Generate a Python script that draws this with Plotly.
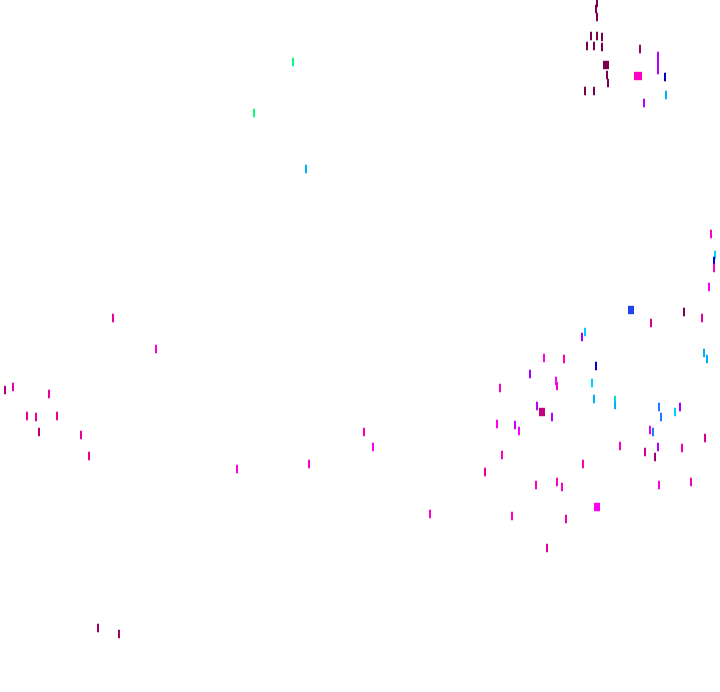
import plotly.graph_objects as go

# point positions (x, y) and colour value per point
xs = [597, 596, 597, 591, 597, 602, 587, 594, 602, 606, 607, 608, 585, 594,
      640, 638, 658, 665, 666, 644,
      293, 254, 306,
      113, 156, 5, 13, 49, 27, 36, 57, 39, 81, 89, 98, 119,
      237, 309, 364, 373, 430,
      631, 684, 702, 651, 585, 582, 544, 564, 704, 707, 596, 530, 556, 557, 592,
      500, 594, 615, 615, 659, 680, 675, 537, 542, 552, 661, 497, 515, 519, 650,
      653, 705, 620, 658, 682, 645, 655, 502, 583, 485, 536, 557, 562, 659, 691,
      597, 512, 566, 547,
      711, 715, 714, 714, 709]
ys = [3, 9, 17, 36, 36, 37, 46, 46, 47, 65, 75, 83, 91, 91,
      49, 76, 63, 77, 95, 103,
      62, 113, 169,
      318, 349, 390, 387, 394, 416, 417, 416, 432, 435, 456, 628, 634,
      469, 464, 432, 447, 514,
      310, 312, 318, 323, 332, 337, 358, 359, 353, 359, 366, 374, 381, 386, 383,
      388, 399, 400, 405, 407, 407, 412, 406, 412, 417, 417, 424, 425, 431, 430,
      432, 438, 446, 447, 448, 452, 457, 455, 464, 472, 485, 482, 487, 485, 482,
      507, 516, 519, 548,
      234, 255, 261, 268, 287]
cval = [1.0, 1.0, 1.0, 1.0, 1.0, 1.0, 1.0, 1.0, 1.0, 1.0, 1.0, 1.0, 1.0, 1.0,
        0.95, 0.8, 0.58, 0.4, 0.2, 0.58,
        0.0, 0.0, 0.2,
        0.85, 0.78, 0.92, 0.85, 0.85, 0.85, 0.85, 0.85, 0.92, 0.85, 0.85, 0.95, 0.95,
        0.78, 0.78, 0.8, 0.72, 0.78,
        0.35, 1.0, 0.85, 0.88, 0.15, 0.55, 0.72, 0.8, 0.2, 0.2, 0.4, 0.55, 0.72, 0.78, 0.15,
        0.8, 0.2, 0.1, 0.2, 0.3, 0.55, 0.15, 0.58, 0.9, 0.58, 0.3, 0.72, 0.6, 0.7, 0.65,
        0.3, 0.88, 0.8, 0.58, 0.82, 0.88, 0.95, 0.8, 0.8, 0.85, 0.8, 0.8, 0.8, 0.75, 0.82,
        0.72, 0.8, 0.82, 0.85,
        0.8, 0.15, 0.4, 0.8, 0.72]

scale = [[0.0, "#00ff80"], [0.15, "#00d0ff"], [0.25, "#0090ff"], [0.32, "#3070ff"],
         [0.4, "#0000cc"], [0.55, "#a000ff"], [0.7, "#ff00ff"], [0.8, "#ff00c0"],
         [0.88, "#d8008a"], [1.0, "#7a0050"]]

big = {(606, 65): 6, (638, 76): 8, (542, 412): 6, (597, 507): 6, (631, 310): 6}
widths = [big.get((x, y), 2) for x, y in zip(xs, ys)]
sizes = [16 if (x, y) == (658, 63) else 6 for x, y in zip(xs, ys)]

fig = go.Figure(go.Scatter(
    x=xs, y=ys, mode="markers",
    marker=dict(symbol="line-ns-open", size=sizes, color=cval, opacity=1,
                colorscale=scale, cmin=0, cmax=1,
                line=dict(width=widths)),
    hoverinfo="skip", showlegend=False,
))
fig.update_xaxes(visible=False, range=[0, 720])
fig.update_yaxes(visible=False, range=[692, 0])
fig.update_layout(width=720, height=692, margin=dict(l=0, r=0, t=0, b=0),
                  plot_bgcolor="white", paper_bgcolor="white")
fig.write_html("out.html", config={"displayModeBar": False},
               post_script="document.body.style.margin='0';")
